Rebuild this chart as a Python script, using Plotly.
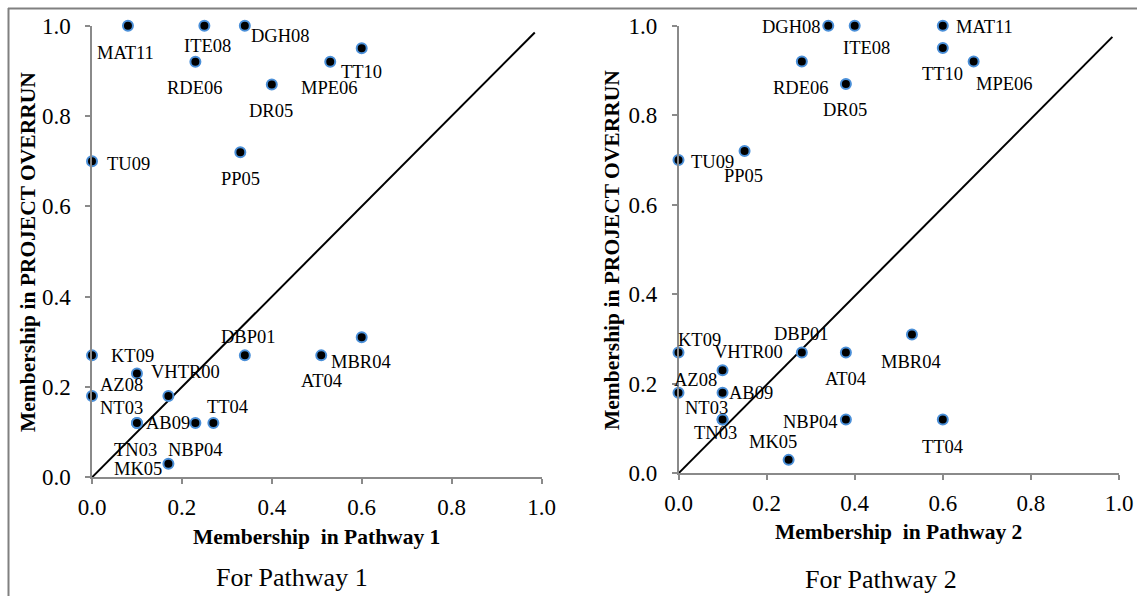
import plotly.graph_objects as go

# ---------------- data ----------------
cases = ["MAT11", "ITE08", "DGH08", "RDE06", "DR05", "MPE06", "TT10", "TU09", "PP05",
         "KT09", "VHTR00", "AZ08", "AB09", "NT03", "TN03", "NBP04", "TT04", "MK05",
         "DBP01", "AT04", "MBR04"]
overrun = [1.00, 1.00, 1.00, 0.92, 0.87, 0.92, 0.95, 0.70, 0.72,
           0.27, 0.23, 0.18, 0.18, 0.12, 0.12, 0.12, 0.12, 0.03,
           0.27, 0.27, 0.31]
pathway1 = [0.08, 0.25, 0.34, 0.23, 0.40, 0.53, 0.60, 0.00, 0.33,
            0.00, 0.10, 0.00, 0.17, 0.10, 0.10, 0.23, 0.27, 0.17,
            0.34, 0.51, 0.60]
pathway2 = [0.60, 0.40, 0.34, 0.28, 0.38, 0.67, 0.60, 0.00, 0.15,
            0.00, 0.10, 0.00, 0.10, 0.10, 0.10, 0.38, 0.60, 0.25,
            0.28, 0.38, 0.53]

tick_vals = [0.0, 0.2, 0.4, 0.6, 0.8, 1.0]
tick_text = ["0.0", "0.2", "0.4", "0.6", "0.8", "1.0"]

diag1_x = [0.0, 0.985]
diag1_y = [0.0, 0.985]
diag2_x = [0.0, 0.985]
diag2_y = [0.0, 0.975]

# label offsets in pixels (right, down) -- styling only
off1 = {"MAT11": (-2, 27), "ITE08": (3, 20), "DGH08": (36, 10), "RDE06": (0, 26),
        "DR05": (-1, 27), "MPE06": (-1, 26), "TT10": (0, 24), "TU09": (36, 3),
        "PP05": (0, 27), "KT09": (40, 1), "VHTR00": (49, -1), "AZ08": (29, -11),
        "AB09": (0, 27), "NT03": (-15, -15), "TN03": (-1, 27), "NBP04": (0, 27),
        "TT04": (14, -16), "MK05": (-30, 5), "DBP01": (4, -18), "AT04": (0, 26),
        "MBR04": (-1, 25)}
off2 = {"MAT11": (42, 1), "ITE08": (12, 22), "DGH08": (-37, 1), "RDE06": (-1, 26),
        "DR05": (-1, 26), "MPE06": (31, 22), "TT10": (0, 26), "TU09": (34, 2),
        "PP05": (-1, 25), "KT09": (21, -12), "VHTR00": (26, -18), "AZ08": (17, -13),
        "AB09": (28, 0), "NT03": (-16, -12), "TN03": (-7, 13), "NBP04": (-35, 2),
        "TT04": (0, 27), "MK05": (-16, -18), "DBP01": (0, -18), "AT04": (0, 27),
        "MBR04": (-1, 27)}

W, H = 1137, 596
SERIF = "Liberation Serif, Times New Roman, serif"
AXIS_GREY = "#8a8a8a"

fig = go.Figure()

# diagonals
fig.add_trace(go.Scatter(x=diag1_x, y=diag1_y, mode="lines",
                         line=dict(color="black", width=2), xaxis="x", yaxis="y",
                         showlegend=False, hoverinfo="skip"))
fig.add_trace(go.Scatter(x=diag2_x, y=diag2_y, mode="lines",
                         line=dict(color="black", width=2), xaxis="x2", yaxis="y2",
                         showlegend=False, hoverinfo="skip"))

marker = dict(size=10, color="black", line=dict(color="#4a8fd8", width=2))
fig.add_trace(go.Scatter(x=pathway1, y=overrun, mode="markers", marker=marker,
                         xaxis="x", yaxis="y", cliponaxis=False, showlegend=False,
                         text=cases))
fig.add_trace(go.Scatter(x=pathway2, y=overrun, mode="markers", marker=marker,
                         xaxis="x2", yaxis="y2", cliponaxis=False, showlegend=False,
                         text=cases))

LABEL_FONT = dict(family=SERIF, size=18.5, color="black")
annotations = []
for name, px, py in zip(cases, pathway1, overrun):
    dx, dy = off1[name]
    annotations.append(dict(x=px, y=py, xref="x", yref="y", text=name, showarrow=False,
                            xshift=dx, yshift=-dy, font=LABEL_FONT))
for name, px, py in zip(cases, pathway2, overrun):
    dx, dy = off2[name]
    annotations.append(dict(x=px, y=py, xref="x2", yref="y2", text=name, showarrow=False,
                            xshift=dx, yshift=-dy, font=LABEL_FONT))

def pap(xpix, ypix):
    return xpix / W, 1 - ypix / H

title_font = dict(family=SERIF, size=21.5, color="black")
for txt, (xp, yp), ang in [
    ("<b>Membership\u00a0 in Pathway 1</b>", (316, 537), 0),
    ("<b>Membership\u00a0 in Pathway 2</b>", (898, 532), 0),
    ("<b>Membership in PROJECT OVERRUN</b>", (28, 252), -90),
    ("<b>Membership in PROJECT OVERRUN</b>", (612, 250), -90),
]:
    ax_, ay_ = pap(xp, yp)
    annotations.append(dict(x=ax_, y=ay_, xref="paper", yref="paper", text=txt,
                            showarrow=False, textangle=ang, xanchor="center",
                            yanchor="middle", font=title_font))

for txt, (xp, yp) in [("For Pathway 1", (292, 577)), ("For Pathway 2", (881, 579))]:
    ax_, ay_ = pap(xp, yp)
    annotations.append(dict(x=ax_, y=ay_, xref="paper", yref="paper", text=txt,
                            showarrow=False, xanchor="center", yanchor="middle",
                            font=dict(family=SERIF, size=26, color="black")))

axis_common = dict(range=[0, 1], tickvals=tick_vals, ticktext=tick_text,
                   showgrid=False, zeroline=False, showline=True,
                   linecolor=AXIS_GREY, linewidth=1.5, ticks="outside",
                   ticklen=5, tickwidth=1.5, tickcolor=AXIS_GREY,
                   tickfont=dict(family=SERIF, size=23, color="black"),
                   fixedrange=True, automargin=False)

fig.update_layout(
    width=W, height=H, autosize=False,
    margin=dict(l=0, r=0, t=0, b=0, pad=0),
    paper_bgcolor="white", plot_bgcolor="white",
    showlegend=False,
    xaxis=dict(domain=[92 / W, 541.5 / W], anchor="y", ticklabelstandoff=3, **axis_common),
    yaxis=dict(domain=[1 - 477.3 / H, 1 - 25.7 / H], anchor="x", ticklabelstandoff=10, **axis_common),
    xaxis2=dict(domain=[678.5 / W, 1119 / W], anchor="y2", ticklabelstandoff=3, **axis_common),
    yaxis2=dict(domain=[1 - 473.3 / H, 1 - 25.7 / H], anchor="x2", ticklabelstandoff=10, **axis_common),
    annotations=annotations,
    shapes=[
        dict(type="line", xref="paper", yref="paper", x0=8 / W, x1=1, y0=1 - 8.5 / H, y1=1 - 8.5 / H,
             line=dict(color="#808080", width=2)),
        dict(type="line", xref="paper", yref="paper", x0=8.5 / W, x1=8.5 / W, y0=0, y1=1 - 8 / H,
             line=dict(color="#808080", width=2)),
    ],
)

fig.write_html("out.html", config={"displayModeBar": False},
               post_script="document.body.style.margin='0';document.body.style.overflow='hidden';")
